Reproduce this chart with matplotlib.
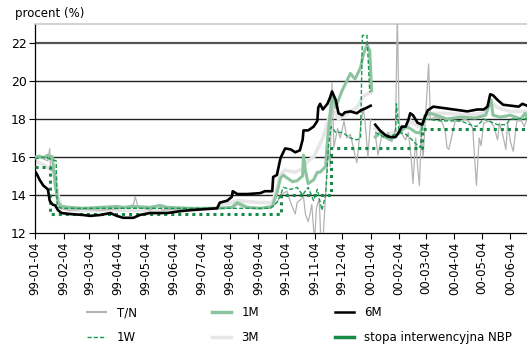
import numpy as np
import pandas as pd
import matplotlib
matplotlib.use("Agg")
import matplotlib.pyplot as plt
import matplotlib.dates as mdates
from matplotlib.lines import Line2D

nan = np.nan

# stopa interwencyjna NBP (step)
stopa_dates = ["1999-01-04", "1999-01-20", "1999-09-29", "1999-11-22", "2000-02-29", "2000-06-22"]
stopa_vals = [15.5, 13.0, 14.0, 16.5, 17.5, 17.5]

# 6M
m6_dates = ["1999-01-04", "1999-01-06", "1999-01-09", "1999-01-13", "1999-01-18", "1999-01-20",
            "1999-01-23", "1999-01-26", "1999-01-29", "1999-02-02", "1999-02-11", "1999-02-25",
            "1999-03-05", "1999-03-16", "1999-03-27", "1999-04-03", "1999-04-10", "1999-04-21",
            "1999-04-28", "1999-05-09", "1999-05-28", "1999-06-11", "1999-06-22", "1999-07-06",
            "1999-07-21", "1999-07-24", "1999-08-01", "1999-08-06", "1999-08-07", "1999-08-12",
            "1999-08-23", "1999-09-06", "1999-09-11", "1999-09-19", "1999-09-20", "1999-09-24",
            "1999-09-28", "1999-10-03", "1999-10-09", "1999-10-14", "1999-10-19", "1999-10-22",
            "1999-10-23", "1999-10-28", "1999-11-03", "1999-11-07", "1999-11-08", "1999-11-10",
            "1999-11-13", "1999-11-18", "1999-11-21", "1999-11-23", "1999-11-27", "1999-11-30",
            "1999-12-04", "1999-12-07", "1999-12-13", "1999-12-20", "1999-12-24", "1999-12-29",
            "2000-01-04", "2000-01-06", "2000-01-09", "2000-01-14", "2000-01-20", "2000-01-25",
            "2000-01-31", "2000-02-03", "2000-02-07", "2000-02-11", "2000-02-14", "2000-02-16",
            "2000-02-19", "2000-02-24", "2000-02-29", "2000-03-03", "2000-03-06", "2000-03-12",
            "2000-03-27", "2000-04-11", "2000-04-18", "2000-04-29", "2000-05-06", "2000-05-10",
            "2000-05-13", "2000-05-16", "2000-05-21", "2000-05-27", "2000-06-13", "2000-06-17",
            "2000-06-22"]
m6_vals = [15.25, 15.1, 14.8, 14.5, 14.3, 13.7,
           13.5, 13.45, 13.2, 13.05, 13.0, 12.95,
           12.9, 12.95, 13.05, 12.9, 12.8, 12.8,
           12.95, 13.05, 13.05, 13.15, 13.2, 13.25,
           13.3, 13.6, 13.7, 13.9, 14.2, 14.05,
           14.05, 14.1, 14.2, 14.2, 14.95, 15.05,
           15.95, 16.45, 16.4, 16.25, 16.35, 16.9,
           17.4, 17.4, 17.6, 17.9, 18.6, 18.8,
           18.5, 18.8, 19.15, 19.45, 19.0, 18.3,
           18.2, 18.35, 18.4, 18.3, 18.45, 18.55,
           18.7, nan, 17.7, 17.4, 17.15, 17.05,
           17.05, 17.25, 17.6, 17.6, 17.95, 18.3,
           18.2, 17.8, 17.7, 18.1, 18.45, 18.65,
           18.55, 18.45, 18.4, 18.5, 18.5, 18.65,
           19.3, 19.25, 19.0, 18.75, 18.65, 18.8,
           18.7]

# 1M
m1_dates = ["1999-01-04", "1999-01-09", "1999-01-13", "1999-01-18", "1999-01-23", "1999-01-26",
            "1999-01-29", "1999-02-02", "1999-02-11", "1999-02-25", "1999-03-16", "1999-04-03",
            "1999-04-10", "1999-04-21", "1999-05-09", "1999-05-20", "1999-05-28", "1999-06-22",
            "1999-07-21", "1999-08-06", "1999-08-12", "1999-08-23", "1999-09-06", "1999-09-19",
            "1999-09-24", "1999-09-28", "1999-10-01", "1999-10-05", "1999-10-11", "1999-10-16",
            "1999-10-22", "1999-10-23", "1999-10-25", "1999-10-28", "1999-11-03", "1999-11-07",
            "1999-11-10", "1999-11-16", "1999-11-18", "1999-11-21", "1999-11-23", "1999-11-27",
            "1999-11-30", "1999-12-04", "1999-12-10", "1999-12-13", "1999-12-18", "1999-12-24",
            "1999-12-27", "1999-12-31", "2000-01-03", "2000-01-05", "2000-01-07", "2000-01-09",
            "2000-01-14", "2000-01-25", "2000-01-31", "2000-02-05", "2000-02-11", "2000-02-16",
            "2000-02-22", "2000-02-27", "2000-03-03", "2000-03-09", "2000-03-27", "2000-04-11",
            "2000-04-27", "2000-05-08", "2000-05-14", "2000-05-16", "2000-05-24", "2000-06-04",
            "2000-06-15", "2000-06-20", "2000-06-22"]
m1_vals = [16.0, 16.05, 15.95, 16.1, 16.0, 14.5,
           13.6, 13.4, 13.35, 13.3, 13.35, 13.4,
           13.35, 13.4, 13.35, 13.45, 13.35, 13.3,
           13.3, 13.35, 13.6, 13.35, 13.3, 13.4,
           14.1, 14.9, 15.05, 14.9, 14.7, 14.75,
           15.0, 16.1, 15.3, 14.6, 14.8, 15.2,
           15.2, 15.5, 16.9, 18.3, 19.4, 18.6,
           19.0, 19.5, 20.1, 20.4, 20.1, 20.7,
           21.4, 21.9, 21.6, 19.5, nan, 17.05,
           17.25, 16.9, 17.1, 17.3, 17.6, 17.5,
           17.3, 17.25, 18.2, 18.3, 18.0, 18.1,
           18.05, 18.2, 19.0, 18.2, 18.1, 18.2,
           18.0, 18.3, 18.0]

# 3M
m3_dates = ["1999-01-04", "1999-01-13", "1999-01-20", "1999-01-26", "1999-01-29", "1999-02-02",
            "1999-02-11", "1999-03-16", "1999-05-09", "1999-06-22", "1999-07-21", "1999-07-24",
            "1999-08-06", "1999-08-12", "1999-09-06", "1999-09-19", "1999-09-24", "1999-09-28",
            "1999-10-03", "1999-10-14", "1999-10-22", "1999-10-28", "1999-11-03", "1999-11-08",
            "1999-11-13", "1999-11-18", "1999-11-23", "1999-11-30", "1999-12-07", "1999-12-13",
            "1999-12-20", "1999-12-27", "2000-01-04", "2000-01-06", "2000-01-09", "2000-01-20",
            "2000-01-31", "2000-02-11", "2000-02-16", "2000-02-24", "2000-03-03", "2000-03-09",
            "2000-03-27", "2000-04-18", "2000-05-06", "2000-05-13", "2000-05-21", "2000-06-04",
            "2000-06-22"]
m3_vals = [15.8, 15.6, 15.4, 15.2, 14.0, 13.3,
           13.2, 13.2, 13.2, 13.25, 13.3, 13.5,
           13.6, 13.7, 13.6, 13.6, 14.3, 15.1,
           15.3, 15.2, 15.4, 15.8, 16.0, 16.5,
           17.0, 17.8, 18.6, 18.0, 18.2, 18.4,
           18.6, 19.2, 19.4, nan, 17.5, 17.2,
           17.3, 17.5, 17.9, 17.6, 17.9, 18.3,
           18.3, 18.2, 18.3, 18.9, 18.6, 18.4,
           18.4]

# T/N
tn_dates = ["1999-01-04", "1999-01-09", "1999-01-13", "1999-01-18", "1999-01-20", "1999-01-21",
            "1999-01-26", "1999-01-28", "1999-01-31", "1999-02-11", "1999-02-25", "1999-03-16",
            "1999-04-10", "1999-04-21", "1999-04-23", "1999-04-26", "1999-05-09", "1999-05-20",
            "1999-05-22", "1999-06-22", "1999-07-21", "1999-08-06", "1999-08-12", "1999-08-23",
            "1999-09-17", "1999-09-24", "1999-09-28", "1999-10-05", "1999-10-09", "1999-10-14",
            "1999-10-16", "1999-10-23", "1999-10-25", "1999-10-28", "1999-10-30", "1999-11-01",
            "1999-11-04", "1999-11-06", "1999-11-09", "1999-11-11", "1999-11-13", "1999-11-16",
            "1999-11-19", "1999-11-21", "1999-11-23", "1999-11-25", "1999-11-29", "1999-12-02",
            "1999-12-06", "1999-12-09", "1999-12-13", "1999-12-17", "1999-12-20", "1999-12-24",
            "1999-12-27", "1999-12-29", "2000-01-01", "2000-01-04", "2000-01-06", "2000-01-09",
            "2000-01-12", "2000-01-16", "2000-01-20", "2000-01-23", "2000-01-27", "2000-01-31",
            "2000-02-02", "2000-02-04", "2000-02-07", "2000-02-11", "2000-02-14", "2000-02-17",
            "2000-02-19", "2000-02-22", "2000-02-24", "2000-02-26", "2000-02-28", "2000-03-01",
            "2000-03-03", "2000-03-07", "2000-03-09", "2000-03-14", "2000-03-20", "2000-03-25",
            "2000-03-27", "2000-03-29", "2000-04-05", "2000-04-11", "2000-04-16", "2000-04-21",
            "2000-04-24", "2000-04-28", "2000-05-01", "2000-05-03", "2000-05-06", "2000-05-13",
            "2000-05-17", "2000-05-21", "2000-05-23", "2000-05-26", "2000-05-30", "2000-06-01",
            "2000-06-04", "2000-06-07", "2000-06-11", "2000-06-16", "2000-06-19", "2000-06-22"]
tn_vals = [15.9, 16.0, 15.9, 15.8, 16.45, 15.3,
           15.2, 14.2, 13.3, 13.2, 13.25, 13.2,
           13.3, 13.5, 13.9, 13.4, 13.2, 13.5,
           13.2, 13.3, 13.3, 13.3, 13.5, 13.3,
           13.3, 13.6, 14.0, 14.2, 13.6, 13.0,
           13.6, 13.9, 13.0, 12.6, 13.0, 13.5,
           11.5, 13.3, 13.8, 11.5, 11.5, 14.0,
           16.5, 15.5, 19.9, 16.5, 17.5, 17.0,
           17.9, 17.0, 17.2, 16.3, 15.7, 17.6,
           18.6, 17.8, 16.0, 18.0, nan, 17.2,
           16.1, 17.1, 17.0, 17.3, 16.8, 17.5,
           23.5, 17.8, 17.2, 16.9, 17.3, 16.0,
           14.6, 17.0, 15.5, 14.5, 17.2, 16.0,
           17.6, 20.9, 18.0, 18.1, 18.0, 17.4,
           16.5, 16.4, 17.9, 17.9, 18.0, 17.8,
           17.5, 14.5, 17.0, 16.6, 17.8, 17.9,
           17.6, 16.9, 17.8, 17.3, 16.4, 17.8,
           16.8, 16.3, 17.9, 17.9, 17.6, 18.0]

# 1W
w1_dates = ["1999-01-04", "1999-01-13", "1999-01-20", "1999-01-27", "1999-01-28", "1999-02-02",
            "1999-09-17", "1999-09-24", "1999-09-28", "1999-10-01", "1999-10-09", "1999-10-16",
            "1999-10-22", "1999-10-28", "1999-11-03", "1999-11-07", "1999-11-12", "1999-11-16",
            "1999-11-19", "1999-11-22", "1999-11-27", "1999-12-02", "1999-12-07", "1999-12-13",
            "1999-12-20", "1999-12-24", "1999-12-26", "1999-12-31", "2000-01-03", "2000-01-06",
            "2000-01-09", "2000-01-20", "2000-01-31", "2000-02-01", "2000-02-04", "2000-02-11",
            "2000-02-16", "2000-02-22", "2000-02-27", "2000-02-29", "2000-03-03", "2000-03-20",
            "2000-04-11", "2000-04-21", "2000-04-28", "2000-05-06", "2000-05-21", "2000-05-30",
            "2000-06-04", "2000-06-22"]
w1_vals = [15.9, 16.0, 15.9, 15.8, 13.4, 13.3,
           13.3, 13.6, 14.0, 14.4, 14.3, 14.4,
           14.0, 14.4, 13.7, 14.3, 13.2, 14.0,
           16.5, 17.6, 17.3, 17.3, 17.2, 17.0,
           16.9, 17.0, 22.4, 22.4, 19.4, nan,
           17.3, 17.0, 17.2, 18.8, 17.3, 17.2,
           17.0, 16.7, 16.5, 17.6, 18.0, 17.9,
           17.9, 17.7, 17.6, 18.0, 17.7, 17.7,
           18.0, 18.0]

c_1m = "#8dc4a0"
c_1w = "#1a9a50"
c_stopa = "#178a48"
c_3m = "#e6e6e6"
c_tn = "#b3b3b3"

fig = plt.figure(figsize=(5.27, 3.44), dpi=100)
ax = fig.add_axes([35/527, 1-233/344, 1-35/527, (233-24)/344])

for y in [14, 16, 18, 20]:
    ax.axhline(y, color="#222222", lw=1.0, zorder=1)
ax.axhline(22, color="#555555", lw=1.6, zorder=1)

d = pd.to_datetime
ax.plot(d(m3_dates), m3_vals, color=c_3m, lw=2.6, zorder=2)
ax.plot(d(tn_dates), tn_vals, color=c_tn, lw=0.9, zorder=3)
ax.plot(d(m1_dates), m1_vals, color=c_1m, lw=2.2, zorder=4)
ax.plot(d(w1_dates), w1_vals, color=c_1w, lw=1.0, ls=(0, (3, 1.5)), zorder=5)
ax.plot(d(stopa_dates), stopa_vals, color=c_stopa, lw=2.2, ls=(0, (1, 1.3)),
        drawstyle="steps-post", zorder=5)
ax.plot(d(m6_dates), m6_vals, color="black", lw=1.9, zorder=6)

ax.set_xlim(pd.Timestamp("1999-01-04"), pd.Timestamp("2000-06-22"))
ax.set_ylim(12, 23)
ax.set_yticks([12, 14, 16, 18, 20, 22])
ax.xaxis.set_major_locator(mdates.MonthLocator(bymonthday=4))
ax.xaxis.set_major_formatter(mdates.DateFormatter("%y-%m-%d"))
ax.tick_params(axis="x", rotation=90, labelsize=8.5, length=4, width=0.8, pad=2)
ax.tick_params(axis="y", labelsize=9, length=4, width=0.8, pad=2)
ax.spines["right"].set_visible(False)
ax.spines["top"].set_color("#cccccc")
ax.spines["top"].set_linewidth(1.2)
ax.spines["left"].set_linewidth(0.9)
ax.spines["bottom"].set_linewidth(0.9)

fig.text(15/527, 1-13/344, "procent (%)", fontsize=8.5, va="center", ha="left")

handles = [
    Line2D([], [], color=c_tn, lw=1.5),
    Line2D([], [], color=c_1w, lw=1.0, ls=(0, (3, 1.5))),
    Line2D([], [], color=c_1m, lw=2.5),
    Line2D([], [], color=c_3m, lw=2.5),
    Line2D([], [], color="black", lw=1.8),
    Line2D([], [], color=c_stopa, lw=2.5),
]
labels = ["T/N", "1W", "1M", "3M", "6M", "stopa interwencyjna NBP"]
fig.legend(handles, labels, ncol=3, loc="upper left", bbox_to_anchor=(87/527, 1-306/344),
           frameon=False, fontsize=8.5, handlelength=1.6, handletextpad=0.9,
           columnspacing=6.4, labelspacing=1.05, borderpad=0, borderaxespad=0)

fig.savefig("out.png", dpi=100)
